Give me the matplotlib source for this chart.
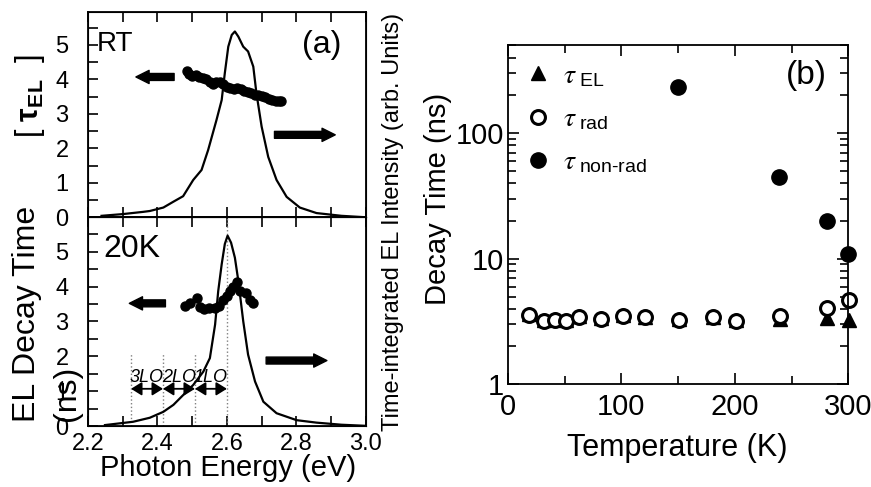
import matplotlib
matplotlib.use("Agg")
import matplotlib.pyplot as plt
from matplotlib.ticker import MultipleLocator, NullFormatter, LogLocator

plt.rcParams['font.family'] = ['Liberation Sans', 'DejaVu Sans']
plt.rcParams['mathtext.fontset'] = 'custom'
plt.rcParams['mathtext.rm'] = 'Liberation Sans'
plt.rcParams['mathtext.sf'] = 'Liberation Sans'
plt.rcParams['mathtext.it'] = 'STIXGeneral:italic'
plt.rcParams['mathtext.bf'] = 'Liberation Sans:bold'

# ==========================
# DATA
# ==========================
# (a) RT : EL spectrum (arb. units) and decay time (ns)
rt_spec_e = [2.239, 2.30, 2.359, 2.378, 2.417, 2.446, 2.474, 2.503, 2.527, 2.546,
             2.570, 2.585, 2.594, 2.604, 2.614, 2.623, 2.633, 2.647, 2.661, 2.676,
             2.685, 2.700, 2.719, 2.743, 2.772, 2.810, 2.858, 2.93, 2.997]
rt_spec_i = [0.04, 0.09, 0.155, 0.18, 0.28, 0.45, 0.61, 1.08, 1.37, 1.95,
             2.82, 3.40, 4.18, 4.95, 5.29, 5.39, 5.24, 4.95, 4.81, 4.37,
             3.60, 2.63, 1.75, 1.08, 0.59, 0.28, 0.12, 0.04, 0.0]
rt_tau_e = [2.484, 2.49, 2.50, 2.51, 2.52, 2.53, 2.54, 2.55, 2.56, 2.57,
            2.58, 2.59, 2.60, 2.61, 2.62, 2.63, 2.64, 2.65, 2.66, 2.67,
            2.68, 2.69, 2.70, 2.71, 2.72, 2.73, 2.74, 2.75, 2.757]
rt_tau = [4.23, 4.15, 4.10, 4.12, 4.08, 4.05, 4.00, 3.93, 3.87, 3.92,
          3.93, 3.88, 3.78, 3.74, 3.72, 3.76, 3.72, 3.66, 3.63, 3.59,
          3.56, 3.54, 3.52, 3.48, 3.44, 3.41, 3.38, 3.36, 3.37]

# (a) 20K
lt_spec_e = [2.249, 2.33, 2.378, 2.417, 2.446, 2.474, 2.503, 2.532, 2.551, 2.566,
             2.575, 2.585, 2.594, 2.602, 2.612, 2.623, 2.633, 2.647, 2.661, 2.681,
             2.705, 2.743, 2.801, 2.858, 2.93, 2.997]
lt_spec_i = [0.03, 0.125, 0.24, 0.41, 0.61, 0.89, 1.18, 1.56, 1.95, 2.91,
             3.87, 4.64, 5.22, 5.46, 5.26, 4.83, 4.16, 3.01, 2.05, 1.28,
             0.70, 0.37, 0.17, 0.10, 0.04, 0.01]
lt_tau_e = [2.479, 2.494, 2.513, 2.522, 2.534, 2.549, 2.566, 2.578, 2.589, 2.599,
            2.609, 2.618, 2.63, 2.637, 2.655, 2.666, 2.676]
lt_tau = [3.44, 3.52, 3.66, 3.42, 3.35, 3.39, 3.38, 3.44, 3.62, 3.73,
          3.88, 4.00, 4.12, 3.88, 3.83, 3.63, 3.52]

# LO phonon replica positions (eV)
lo_lines = [2.324, 2.416, 2.508, 2.600]
lo_labels = ["3LO", "2LO", "1LO"]

# (b) decay times vs temperature
temp = [19, 31.5, 41.5, 51, 63, 82, 101.5, 121, 151, 181, 200.6, 240, 281, 301]
tau_rad = [3.56, 3.19, 3.25, 3.19, 3.45, 3.32, 3.50, 3.45, 3.24, 3.45, 3.19, 3.50, 4.07, 4.70]
tau_el = [3.62, 3.24, 3.30, 3.22, 3.52, 3.38, 3.56, 3.45, 3.30, 3.45, 3.22, 3.32, 3.35, 3.24]
temp_nr = [150, 239, 281, 300]
tau_nr = [233, 44.5, 20.1, 11.0]

# ==========================
# FIGURE
# ==========================
fig = plt.figure(figsize=(8.71, 4.87), dpi=100)
axt = fig.add_axes([0.101, 0.554, 0.319, 0.421])
axb = fig.add_axes([0.101, 0.125, 0.319, 0.429])
axr = fig.add_axes([0.583, 0.211, 0.391, 0.697])

arrow_style = "simple,head_length=0.95,head_width=0.95,tail_width=0.5"


def style_a(ax, show_x, ytop):
    ax.set_xlim(2.2, 3.0)
    ax.set_ylim(0, ytop)
    ax.xaxis.set_major_locator(MultipleLocator(0.2))
    ax.xaxis.set_minor_locator(MultipleLocator(0.1))
    ax.yaxis.set_major_locator(MultipleLocator(1))
    ax.yaxis.set_minor_locator(MultipleLocator(0.5))
    ax.tick_params(which='both', direction='in', top=True, right=True,
                   labelsize=17, width=1.2, length=7)
    ax.tick_params(axis='y', which='both', left=True, pad=14)
    ax.tick_params(axis='x', pad=5, labelbottom=show_x)
    ax.xaxis.set_major_formatter(plt.FormatStrFormatter('%.1f'))
    for s in ax.spines.values():
        s.set_linewidth(1.3)


# ---- top: RT
style_a(axt, False, 5.95)
axt_r = axt.twinx()
axt_r.set_ylim(0, 5.95)
axt_r.set_yticks([])
axt_r.plot(rt_spec_e, rt_spec_i, color='black', lw=1.6)
axt.plot(rt_tau_e, rt_tau, 'o', color='black', ms=6.5)
axt.annotate("", xy=(2.33, 4.07), xytext=(2.456, 4.07),
             arrowprops=dict(arrowstyle=arrow_style, color='black', mutation_scale=10))
axt.annotate("", xy=(2.92, 2.39), xytext=(2.729, 2.39),
             arrowprops=dict(arrowstyle=arrow_style, color='black', mutation_scale=10))
axt.text(0.097, 0.844, "RT", transform=axt.transAxes, fontsize=20,
         ha='center', va='center')
axt.text(0.842, 0.839, "(a)", transform=axt.transAxes, fontsize=23,
         ha='center', va='center')

# ---- bottom: 20K
style_a(axb, True, 5.99)
axb_r = axb.twinx()
axb_r.set_ylim(0, 5.99)
axb_r.set_yticks([])
for i, e in enumerate(lo_lines):
    top = 5.99 if i == len(lo_lines) - 1 else 2.1
    axb.plot([e, e], [0, top], ls=':', color='gray', lw=1)
axb_r.plot(lt_spec_e, lt_spec_i, color='black', lw=1.6)
axb.plot(lt_tau_e, lt_tau, 'o', color='black', ms=6.5)
for i, lab in enumerate(lo_labels):
    e0, e1 = lo_lines[i], lo_lines[i + 1]
    axb.annotate("", xy=(e0, 1.07), xytext=(e1, 1.07),
                 arrowprops=dict(arrowstyle='<|-|>,head_length=0.32,head_width=0.2',
                                 color='black', lw=1.3, mutation_scale=20,
                                 shrinkA=0, shrinkB=0))
    axb.text((e0 + e1) / 2, 1.40, lab, fontsize=13, style='italic',
             ha='center', va='center')
axb.annotate("", xy=(2.311, 3.52), xytext=(2.431, 3.52),
             arrowprops=dict(arrowstyle=arrow_style, color='black', mutation_scale=10))
axb.annotate("", xy=(2.896, 1.88), xytext=(2.705, 1.88),
             arrowprops=dict(arrowstyle=arrow_style, color='black', mutation_scale=10))
axb.text(0.158, 0.847, "20K", transform=axb.transAxes, fontsize=23,
         ha='center', va='center')

# panel (a) labels
fig.text(0.262, 0.038, "Photon Energy (eV)", fontsize=21, ha='center', va='center')
fig.text(0.031, 0.355, "EL Decay Time", fontsize=23, rotation=90,
         ha='center', va='center')
fig.text(0.077, 0.193, "(ns)", fontsize=23, rotation=90, ha='center', va='center')
fig.text(0.034, 0.803, r"[ $\mathbf{\tau_{EL}}$  ]", fontsize=22, rotation=90,
         ha='center', va='center')
fig.text(0.451, 0.544, "Time-integrated EL Intensity (arb. Units)", fontsize=17,
         rotation=90, ha='center', va='center')

# ---- (b)
axr.plot(temp, tau_el, '^', color='black', ms=10, clip_on=False,
         label=r"$\tau_{\mathsf{\ EL}}$")
axr.plot(temp, tau_rad, 'o', mfc='white', mec='black', mew=2.2, ms=10,
         clip_on=False, label=r"$\tau_{\mathsf{\ rad}}$")
axr.plot(temp_nr, tau_nr, 'o', color='black', ms=11, clip_on=False,
         label=r"$\tau_{\mathsf{\ non\text{-}rad}}$")
axr.set_yscale('log')
axr.set_xlim(0, 300)
axr.set_ylim(1, 506)
axr.xaxis.set_major_locator(MultipleLocator(100))
axr.xaxis.set_minor_locator(MultipleLocator(50))
axr.yaxis.set_minor_locator(LogLocator(base=10, subs=range(2, 10)))
axr.yaxis.set_minor_formatter(NullFormatter())
axr.set_yticks([1, 10, 100])
axr.set_yticklabels(["1", "10", "100"])
axr.tick_params(which='both', direction='in', top=True, right=True,
                labelsize=21, width=1.2)
axr.tick_params(which='major', length=8)
axr.tick_params(which='minor', length=6)
axr.tick_params(axis='x', pad=6)
axr.tick_params(axis='y', pad=3)
for s in axr.spines.values():
    s.set_linewidth(1.3)
axr.legend(loc='upper left', bbox_to_anchor=(-0.01, 0.995), frameon=False,
           fontsize=20, handletextpad=0.3, labelspacing=0.62, borderaxespad=0.2,
           handlelength=1.2)
axr.text(0.876, 0.909, "(b)", transform=axr.transAxes, fontsize=24,
         ha='center', va='center')
fig.text(0.778, 0.080, "Temperature (K)", fontsize=22, ha='center', va='center')
fig.text(0.503, 0.591, "Decay Time (ns)", fontsize=21, rotation=90,
         ha='center', va='center')

fig.savefig("out.png", dpi=100)
